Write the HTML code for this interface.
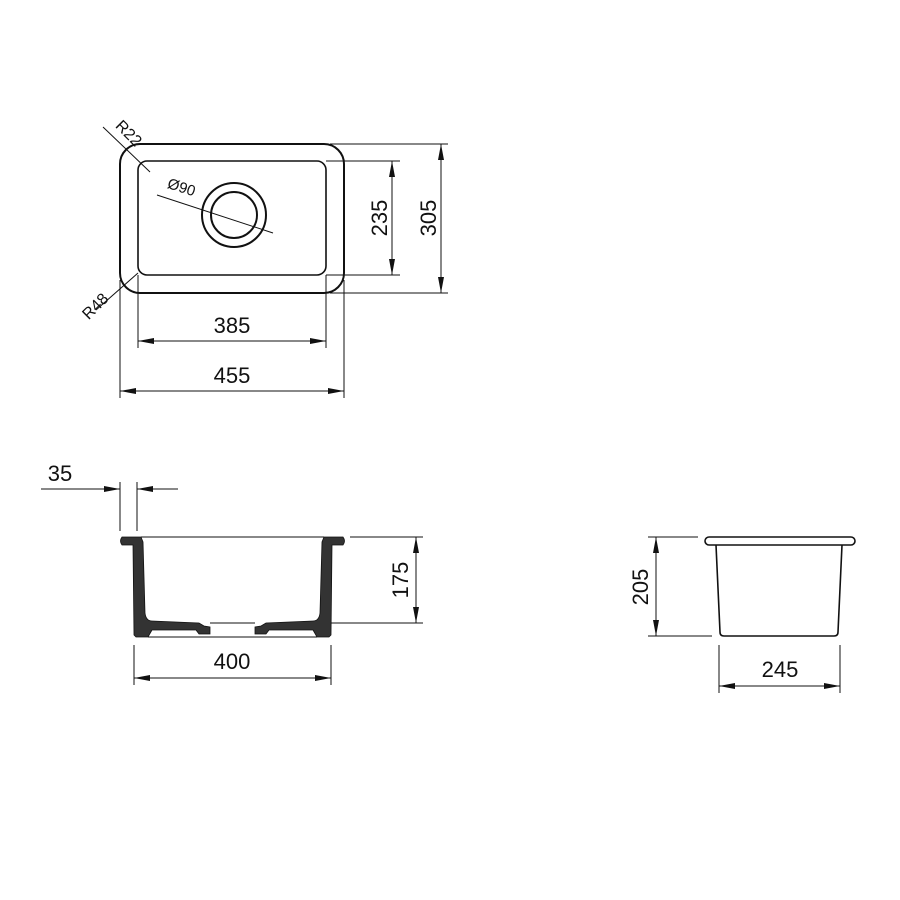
<!DOCTYPE html>
<html><head><style>body{margin:0;background:#fff}svg{display:block}</style></head><body>
<svg width="900" height="900" viewBox="0 0 900 900" xmlns="http://www.w3.org/2000/svg" font-family="Liberation Sans, sans-serif" font-size="22" fill="#111">
<defs>
<marker id="a" viewBox="0 0 16 6" refX="16" refY="3" markerWidth="16" markerHeight="6" markerUnits="userSpaceOnUse" orient="auto-start-reverse"><path d="M0,0 L16,3 L0,6 Z" fill="#111"/></marker>
</defs>
<g stroke="#111" fill="none" stroke-width="1">
<rect x="120" y="144" width="224" height="149" rx="20" stroke-width="2"/>
<rect x="138" y="161" width="188" height="114" rx="9" stroke-width="1.6"/>
<circle cx="234" cy="215" r="32" stroke-width="2"/>
<circle cx="234" cy="215" r="23" stroke-width="2"/>
<line x1="157" y1="195" x2="273" y2="233"/>
<line x1="103" y1="127" x2="150" y2="172"/>
<line x1="96" y1="310" x2="138" y2="273"/>
<line x1="326" y1="161" x2="400" y2="161"/><line x1="326" y1="275" x2="400" y2="275"/>
<line x1="392" y1="161" x2="392" y2="275" marker-start="url(#a)" marker-end="url(#a)"/>
<line x1="330" y1="144" x2="448" y2="144"/><line x1="330" y1="293" x2="448" y2="293"/>
<line x1="441" y1="144" x2="441" y2="293" marker-start="url(#a)" marker-end="url(#a)"/>
<line x1="138" y1="275" x2="138" y2="348"/><line x1="326" y1="275" x2="326" y2="348"/>
<line x1="138" y1="341" x2="326" y2="341" marker-start="url(#a)" marker-end="url(#a)"/>
<line x1="120" y1="280" x2="120" y2="398"/><line x1="344" y1="280" x2="344" y2="398"/>
<line x1="120" y1="391" x2="344" y2="391" marker-start="url(#a)" marker-end="url(#a)"/>
<line x1="41" y1="489" x2="120" y2="489" marker-end="url(#a)"/>
<line x1="178" y1="489" x2="137" y2="489" marker-end="url(#a)"/>
<line x1="120" y1="482" x2="120" y2="531"/><line x1="137" y1="482" x2="137" y2="531"/>
<line x1="141" y1="537" x2="324" y2="537"/>
<line x1="148" y1="637" x2="317" y2="637"/>
<line x1="210" y1="623" x2="255" y2="623"/>
<line x1="350" y1="537" x2="423" y2="537"/><line x1="330" y1="623" x2="423" y2="623"/>
<line x1="416" y1="537" x2="416" y2="623" marker-start="url(#a)" marker-end="url(#a)"/>
<line x1="134" y1="645" x2="134" y2="685"/><line x1="331" y1="645" x2="331" y2="685"/>
<line x1="134" y1="678" x2="331" y2="678" marker-start="url(#a)" marker-end="url(#a)"/>
<rect x="705" y="537" width="150" height="8" rx="4" stroke-width="1.6"/>
<path d="M716,545 L720,632 Q720,636 724,636 L834,636 Q838,636 838,632 L842,545" stroke-width="1.6"/>
<line x1="648" y1="537" x2="698" y2="537"/><line x1="648" y1="636" x2="712" y2="636"/>
<line x1="656" y1="537" x2="656" y2="636" marker-start="url(#a)" marker-end="url(#a)"/>
<line x1="719" y1="645" x2="719" y2="693"/><line x1="840" y1="645" x2="840" y2="693"/>
<line x1="719" y1="686" x2="840" y2="686" marker-start="url(#a)" marker-end="url(#a)"/>
</g>
<g fill="#333" stroke="#111" stroke-width="0.8">
<path id="lp" d="M122,537 L141,537 L143,542 L145,613 Q146,621 152,621 L199,623 L204,626 L210,627 L210,634 L199,634 L196,630 L152,630 L148,637 L136,637 L134,635 L133,545 L122,545 Q119,541 122,537 Z"/>
<use href="#lp" transform="translate(465,0) scale(-1,1)"/>
</g>
<text x="232" y="333" text-anchor="middle">385</text>
<text x="232" y="383" text-anchor="middle">455</text>
<text transform="translate(387,218) rotate(-90)" text-anchor="middle">235</text>
<text transform="translate(436,218) rotate(-90)" text-anchor="middle">305</text>
<text transform="translate(125,137) rotate(45)" text-anchor="middle" font-size="16">R22</text>
<text transform="translate(99,310) rotate(-45)" text-anchor="middle" font-size="16">R48</text>
<text transform="translate(180,192) rotate(18)" text-anchor="middle" font-size="15">Ø90</text>
<text x="60" y="481" text-anchor="middle">35</text>
<text transform="translate(408,580) rotate(-90)" text-anchor="middle">175</text>
<text x="232" y="669" text-anchor="middle">400</text>
<text transform="translate(648,587) rotate(-90)" text-anchor="middle">205</text>
<text x="780" y="677" text-anchor="middle">245</text>
</svg>
</body></html>
